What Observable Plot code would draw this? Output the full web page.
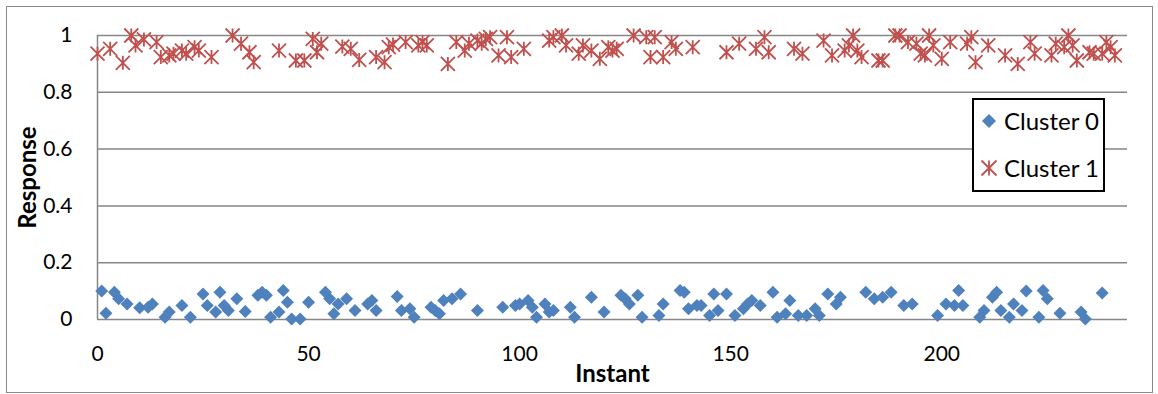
<!DOCTYPE html>
<html><head><meta charset="utf-8">
<script src="https://cdn.jsdelivr.net/npm/d3@7"></script>
<script src="https://cdn.jsdelivr.net/npm/@observablehq/plot@0.6"></script>
<style>
body{margin:0;background:#fff;}
#wrap{position:relative;width:1158px;height:394px;font-family:Lato,sans-serif;overflow:hidden;}
#chart{position:absolute;left:0;top:0;}
#border{position:absolute;left:6px;top:6px;width:1147px;height:387px;border:1.5px solid #8a8a8a;box-sizing:border-box;pointer-events:none;}
#legend{position:absolute;left:972px;top:98px;width:133px;height:94px;border:2px solid #000;box-sizing:border-box;background:#fff;}
</style></head>
<body><div id="wrap"><div id="border"></div><div id="chart"></div><div id="legend"></div></div>
<script>
// Cluster 0 (Instant, Response)
const cluster0X = [1,2,4,5,7,10,12,13,16,17,20,22,25,26,28,29,30,31,33,35,38,39,40,41,43,44,45,46,48,50,54,55,56,57,59,61,64,65,66,71,72,74,75,79,80,81,82,84,86,90,96,99,100,102,103,104,106,107,108,112,113,117,120,124,125,126,128,129,133,134,138,139,140,142,143,145,146,147,149,151,153,154,155,157,160,161,163,164,166,168,170,171,173,175,176,182,184,186,188,191,193,199,201,203,204,205,209,210,212,213,214,216,217,219,220,223,224,225,228,233,234,238];
const cluster0Y = [0.100,0.022,0.096,0.073,0.055,0.041,0.043,0.055,0.008,0.026,0.049,0.008,0.090,0.049,0.026,0.096,0.049,0.032,0.073,0.028,0.085,0.096,0.085,0.008,0.026,0.102,0.061,0.002,0.002,0.061,0.096,0.073,0.020,0.055,0.073,0.032,0.055,0.067,0.032,0.081,0.032,0.038,0.008,0.043,0.032,0.020,0.067,0.073,0.090,0.032,0.043,0.049,0.055,0.067,0.043,0.008,0.055,0.026,0.032,0.043,0.008,0.078,0.026,0.085,0.073,0.055,0.085,0.008,0.014,0.055,0.102,0.096,0.038,0.049,0.049,0.014,0.090,0.032,0.090,0.014,0.038,0.055,0.067,0.049,0.096,0.008,0.020,0.067,0.014,0.014,0.038,0.014,0.090,0.055,0.078,0.096,0.073,0.078,0.096,0.049,0.055,0.014,0.055,0.049,0.102,0.049,0.008,0.032,0.078,0.096,0.032,0.008,0.055,0.032,0.100,0.008,0.102,0.073,0.022,0.026,0.002,0.093];
// Cluster 1 (Instant, Response)
const cluster1X = [0,3,6,8,9,11,14,15,17,18,20,21,23,24,27,32,34,36,37,43,47,49,51,52,53,58,60,62,66,68,69,70,73,76,77,78,83,85,87,88,90,91,92,93,95,97,98,101,107,108,110,111,114,115,117,119,121,122,123,127,130,131,132,134,136,137,141,149,152,156,158,159,165,167,172,174,177,178,179,180,181,185,186,189,190,192,194,195,196,197,198,200,202,206,207,208,211,215,218,221,222,226,227,229,230,231,232,235,236,238,239,240,241];
const cluster1Y = [0.936,0.953,0.904,1.0,0.965,0.986,0.977,0.924,0.930,0.936,0.947,0.936,0.959,0.947,0.924,1.0,0.971,0.941,0.906,0.947,0.912,0.912,0.988,0.941,0.971,0.961,0.953,0.914,0.924,0.906,0.959,0.968,0.977,0.965,0.977,0.965,0.900,0.977,0.947,0.971,0.982,0.971,0.988,0.994,0.930,0.994,0.924,0.953,0.982,0.994,1.0,0.965,0.936,0.965,0.947,0.918,0.959,0.947,0.953,1.0,0.994,0.924,0.994,0.924,0.977,0.953,0.959,0.941,0.971,0.953,0.994,0.941,0.953,0.936,0.982,0.930,0.947,0.965,1.0,0.947,0.924,0.912,0.912,1.0,1.0,0.977,0.971,0.936,0.930,1.0,0.965,0.918,0.977,0.971,0.994,0.906,0.965,0.930,0.900,0.977,0.936,0.930,0.971,0.959,1.0,0.965,0.912,0.941,0.936,0.936,0.977,0.959,0.930];
const seriesNames = ["Cluster 0", "Cluster 1"];
const xTicks = [0, 50, 100, 150, 200];
const yTicks = [0, 0.2, 0.4, 0.6, 0.8, 1];

const c0 = cluster0X.map((x, i) => ({x, y: cluster0Y[i]}));
const c1 = cluster1X.map((x, i) => ({x, y: cluster1Y[i]}));

const diamondSym = {draw(ctx, size){ const r = Math.sqrt(size/Math.PI); ctx.moveTo(0,-r); ctx.lineTo(r,0); ctx.lineTo(0,r); ctx.lineTo(-r,0); ctx.closePath(); }};
const starSym = {draw(ctx, size){ const r = Math.sqrt(size/Math.PI); ctx.moveTo(0,-r); ctx.lineTo(0,r); ctx.moveTo(-r,-r); ctx.lineTo(r,r); ctx.moveTo(r,-r); ctx.lineTo(-r,r); }};

const grid = "#868686";
const chart = Plot.plot({
  width: 1158, height: 394,
  marginLeft: 97, marginRight: 31, marginTop: 35, marginBottom: 75,
  style: {fontFamily: "Lato, sans-serif", fontSize: "21px", color: "#000", background: "transparent"},
  x: {domain: [0, 244]},
  y: {domain: [0, 1]},
  marks: [
    Plot.gridY(yTicks, {stroke: grid, strokeOpacity: 1, strokeWidth: 1.5}),
    Plot.ruleX([0], {stroke: grid, strokeWidth: 1.5}),
    Plot.axisY(yTicks, {tickSize: 0, tickPadding: 25, label: null, tickFormat: d => String(d)}),
    Plot.axisX(xTicks, {tickSize: 0, tickPadding: 27, label: null}),
    Plot.dot(c1, {x: "x", y: "y", symbol: starSym, r: 7, stroke: "#C0504D", strokeWidth: 1.8, fill: "none"}),
    Plot.dot(c0, {x: "x", y: "y", symbol: diamondSym, r: 6.5, fill: "#4F81BD", stroke: "none"}),
    Plot.text(["Instant"], {frameAnchor: "bottom", dy: 55, fontWeight: "bold", fontSize: 24, textAnchor: "middle", lineAnchor: "middle"}),
    Plot.text(["Response"], {frameAnchor: "left", dx: -69, rotate: -90, fontWeight: "bold", fontSize: 24, textAnchor: "middle", lineAnchor: "middle"})
  ]
});
document.getElementById("chart").append(chart);

// Legend
const lg = d3.select("#legend").append("svg").attr("width", 129).attr("height", 90).style("display","block");
const entries = [
  {name: seriesNames[0], sym: diamondSym, fill: "#4F81BD", stroke: "none", r: 7, y: 21},
  {name: seriesNames[1], sym: starSym, fill: "none", stroke: "#C0504D", r: 7.5, y: 68}
];
for (const e of entries) {
  lg.append("path").attr("transform", `translate(15,${e.y})`)
    .attr("d", d3.symbol().type(e.sym).size(Math.PI * e.r * e.r)())
    .attr("fill", e.fill).attr("stroke", e.stroke).attr("stroke-width", 1.8);
  lg.append("text").attr("x", 30).attr("y", e.y).attr("dy", "0.36em")
    .attr("font-family", "Lato, sans-serif").attr("font-size", 24).text(e.name);
}
</script>
</body></html>
